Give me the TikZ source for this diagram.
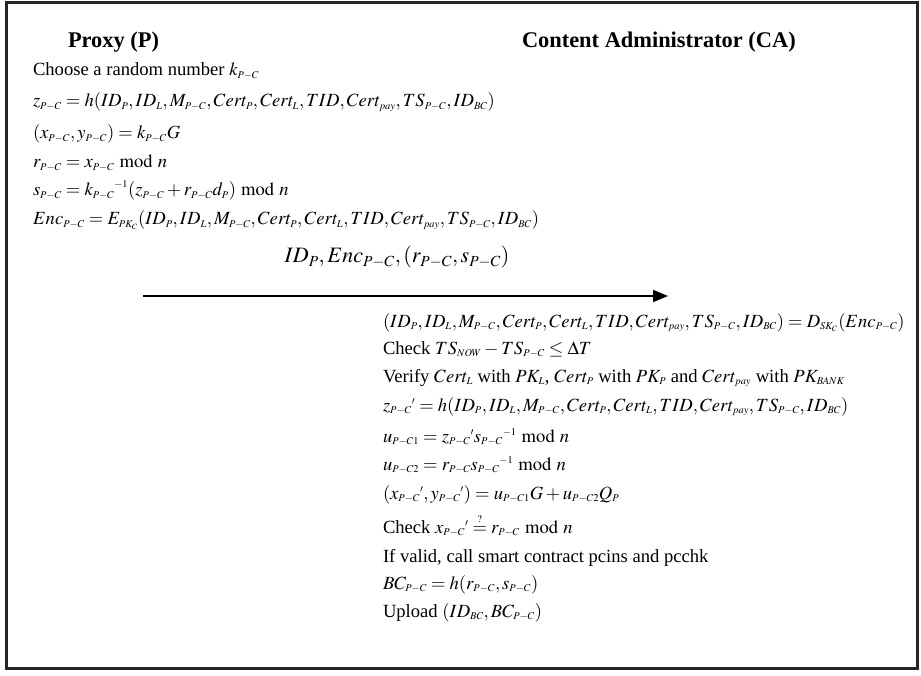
\documentclass[tikz,border=0pt]{standalone}
\usepackage{mathptmx}
\usepackage{amsmath}
\usepackage[no-math]{fontspec}
\setmainfont{Liberation Serif}
\usetikzlibrary{arrows.meta, positioning}
\DeclareMathSizes{18.6}{18.6}{10.4}{8}
\DeclareMathSizes{22}{22}{15.4}{11}
\newcommand{\pc}{_{P-C}}
\newcommand{\plist}{ID_P, ID_L, M\pc, Cert_P, Cert_L, TID, Cert_{pay}, TS\pc, ID_{BC}}

\begin{document}
\begin{tikzpicture}[x=1pt, y=-1pt,
  every node/.style={inner sep=0pt, outer sep=0pt},
  txt/.style={anchor=base west, font={\fontsize{18.6}{22}\selectfont}},
  hdr/.style={anchor=base west, font={\fontsize{22.4}{26}\selectfont\bfseries}},
  msg/.style={anchor=base, font={\fontsize{22}{26}\selectfont}}]
  \useasboundingbox (0,0) rectangle (921,676);
  \draw[line width=3pt, black!85] (6,3) rectangle (917,668);
  % ============ headers ============
  \node[hdr] (proxy) at (68,48) {Proxy (P)};
  \node[hdr] (ca) at (522,48) {Content Administrator (CA)};
  % ============ proxy side ============
  \node[txt] (p1) at (33,76) {Choose a random number $k\pc$};
  \node[txt] (p2) at (33,107) {$z\pc = h(\plist)$};
  \node[txt] (p3) at (33,139) {$(x\pc, y\pc) = k\pc G$};
  \node[txt] (p4) at (33,168) {$r\pc = x\pc \bmod n$};
  \node[txt] (p5) at (33,196) {$s\pc = {k\pc}^{-1}(z\pc + r\pc d_P) \bmod n$};
  \node[txt] (p6) at (33,225) {$Enc\pc = E_{PK_C}(\plist)$};
  % ============ message ============
  \coordinate (from) at (143,296);
  \coordinate (to) at (668,296);
  \draw[line width=1.5pt, -{Triangle[length=15pt, width=12pt]}] (from) -- (to);
  \node[msg] (m1) at (397,263) {$ID_P, Enc\pc, (r\pc, s\pc)$};
  % ============ CA side ============
  \node[txt] (c1) at (383,327) {$(\plist) = D_{SK_C}(Enc\pc)$};
  \node[txt] (c2) at (383,354) {Check $TS_{NOW} - TS\pc \le \Delta T$};
  \node[txt] (c3) at (383,382) {Verify $Cert_L$ with $PK_L$, $Cert_P$ with $PK_P$ and $Cert_{pay}$ with $PK_{BANK}$};
  \node[txt] (c4) at (383,411) {${z\pc}' = h(\plist)$};
  \node[txt] (c5) at (383,442) {$u_{P-C1} = {z\pc}'{s\pc}^{-1} \bmod n$};
  \node[txt] (c6) at (383,470) {$u_{P-C2} = r\pc {s\pc}^{-1} \bmod n$};
  \node[txt] (c7) at (383,499) {$({x\pc}', {y\pc}') = u_{P-C1}G + u_{P-C2}Q_P$};
  \node[txt] (c8) at (383,533) {Check ${x\pc}' \overset{?}{=} r\pc \bmod n$};
  \node[txt] (c9) at (383,562) {If valid, call smart contract pcins and pcchk};
  \node[txt] (c10) at (383,589) {$BC\pc = h(r\pc, s\pc)$};
  \node[txt] (c11) at (383,617) {Upload $(ID_{BC}, BC\pc)$};
\end{tikzpicture}
\end{document}
